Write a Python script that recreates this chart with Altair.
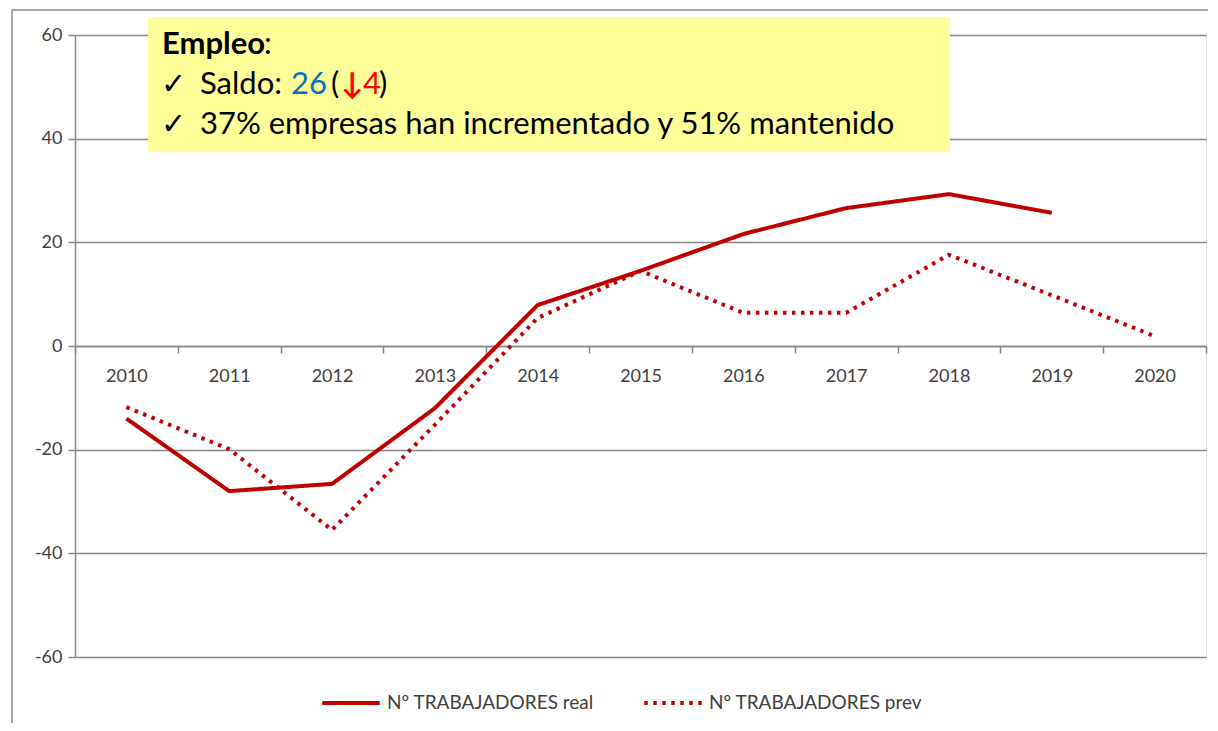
import altair as alt
import pandas as pd

years = ["2010", "2011", "2012", "2013", "2014", "2015", "2016", "2017", "2018", "2019", "2020"]
real = [-14.0, -28.0, -26.6, -12.0, 7.9, 14.5, 21.6, 26.6, 29.3, 25.7, None]
prev = [-11.8, -19.9, -35.5, -15.2, 5.4, 14.5, 6.4, 6.4, 17.6, 9.8, 1.9]
series_names = ["Nº TRABAJADORES real", "Nº TRABAJADORES prev"]
y_ticks = [-60, -40, -20, 0, 20, 40, 60]

RED = "#C00000"
FONT = "Lato"

rows = []
for name, vals in zip(series_names, [real, prev]):
    for yr, v in zip(years, vals):
        if v is not None:
            rows.append({"year": yr, "value": v, "series": name})
df = pd.DataFrame(rows)

W, H = 1131, 622

legend_opts = dict(title=None, orient="none", legendX=245, legendY=637,
                   direction="horizontal", symbolType="stroke",
                   symbolStrokeWidth=4, symbolSize=3300, symbolStrokeColor=RED,
                   labelFont=FONT, labelFontSize=19, labelColor="#404040",
                   labelLimit=400, labelOffset=5, columnPadding=42)

lines = alt.Chart(df).mark_line(strokeWidth=4, strokeJoin="round").encode(
    x=alt.X("year:N", sort=years,
            scale=alt.Scale(type="band", domain=years, paddingInner=0, paddingOuter=0),
            axis=alt.Axis(title=None, orient="bottom", offset=-H / 2, labelAngle=0,
                          tickBand="extent", tickSize=7, tickColor="#868686", tickWidth=1.5,
                          domainColor="#868686", domainWidth=1.5,
                          labelFont=FONT, labelFontSize=18, labelColor="#404040",
                          labelPadding=14, grid=False)),
    y=alt.Y("value:Q",
            scale=alt.Scale(domain=[-60, 60], nice=False, zero=False),
            axis=alt.Axis(title=None, values=y_ticks, tickSize=7, tickColor="#868686",
                          tickWidth=1.5, domainColor="#868686", domainWidth=1.5,
                          gridColor="#868686", gridWidth=1.5,
                          labelExpr="toString(datum.value)",
                          labelFont=FONT, labelFontSize=18, labelColor="#404040",
                          labelPadding=6)),
    color=alt.Color("series:N", sort=series_names,
                    scale=alt.Scale(domain=series_names, range=[RED, RED]),
                    legend=alt.Legend(**legend_opts)),
    strokeDash=alt.StrokeDash("series:N", sort=series_names,
                              scale=alt.Scale(domain=series_names, range=[[1, 0], [3.5, 5.5]]),
                              legend=alt.Legend(**legend_opts)),
)

frame = alt.Chart(pd.DataFrame({"a": [0]})).mark_rect(
    fill=None, stroke="#A6A6A6", strokeWidth=2
).encode(x=alt.value(-63), x2=alt.value(W + 100), y=alt.value(-25), y2=alt.value(H + 100))

box = alt.Chart(pd.DataFrame({"a": [0]})).mark_rect(
    fill="#FFFF99", stroke=None
).encode(x=alt.value(73), x2=alt.value(875), y=alt.value(-18), y2=alt.value(117))

def txt(s, x, y, color="#000000", weight="normal", size=31):
    return alt.Chart(pd.DataFrame({"t": [s]})).mark_text(
        align="left", baseline="middle", font=FONT, fontSize=size, fontWeight=weight, color=color
    ).encode(text="t:N", x=alt.value(x), y=alt.value(y))

texts = [
    txt("Empleo", 87, 10, weight="bold"),
    txt(":", 189, 10),
    txt("✓", 86, 50, size=30),
    txt("Saldo:", 125, 50),
    txt("26", 216, 50, color="#0070C0"),
    txt("(", 256, 50),
    txt("↓", 266, 50, color="#FF0000", weight="bold", size=30),
    txt("4", 288, 50, color="#FF0000"),
    txt(")", 304, 50),
    txt("✓", 86, 90, size=30),
    txt("37% empresas han incrementado y 51% mantenido", 125, 90),
]

chart = alt.layer(frame, lines, box, *texts).properties(
    width=W, height=H,
    autosize=alt.AutoSizeParams(type="none"),
    padding={"left": 67, "top": 27, "right": 2, "bottom": 66},
).configure_view(stroke=None).configure(background="white")

chart.save("out.html", embed_options={"renderer": "svg", "actions": False})
